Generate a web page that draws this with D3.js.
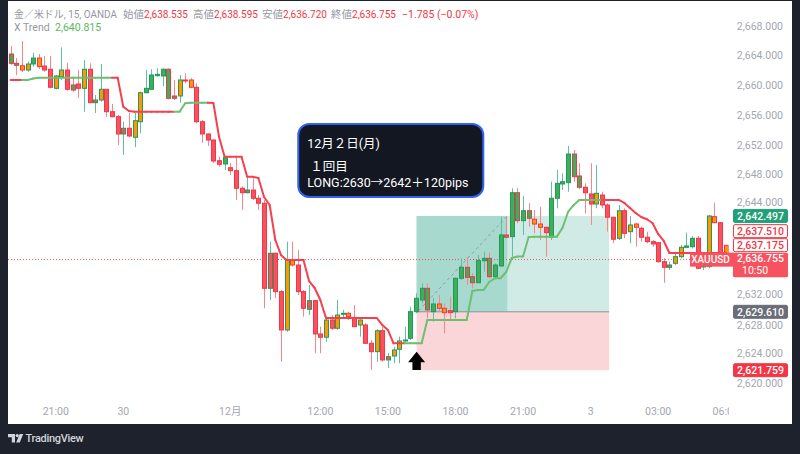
<!DOCTYPE html>
<html><head><meta charset="utf-8">
<script src="https://cdn.jsdelivr.net/npm/d3@7"></script>
<style>html,body{margin:0;padding:0;background:#1e222d;overflow:hidden}</style>
</head><body><svg id="c" width="800" height="454"></svg>
<script>
// ---------- DATA ----------
const opens = [2664.26,2663.01,2662.69,2662.11,2662.92,2663.72,2662.65,2662.21,2659.65,2661.21,
2662.11,2660.10,2660.23,2659.65,2662.21,2657.72,2658.08,2659.52,2656.51,2655.84,
2653.51,2654.28,2653.07,2655.16,2659.06,2659.52,2661.35,2661.31,2662.21,2658.62,
2658.62,2660.77,2660.77,2659.79,2655.16,2653.51,2652.70,2649.92,2649.48,2648.98,
2648.58,2646.21,2645.62,2645.98,2644.87,2644.20,2632.77,2637.48,2632.32,2627.17,
2636.58,2635.90,2632.32,2629.95,2631.11,2626.63,2626.19,2628.51,2627.40,2629.35,
2629.41,2628.74,2627.84,2627.84,2625.38,2624.25,2627.07,2623.14,2623.67,2624.57,
2625.78,2626.05,2629.63,2631.20,2632.77,2629.63,2630.66,2630.08,2629.76,2629.63,
2634.12,2635.59,2634.33,2633.52,2636.48,2636.80,2634.33,2635.77,2639.94,2639.71,
2645.62,2641.86,2643.20,2642.05,2641.41,2640.97,2639.63,2644.87,2646.79,2646.97,
2650.82,2647.87,2646.35,2645.45,2644.10,2645.31,2643.97,2642.32,2639.49,2643.20,
2640.38,2641.41,2640.84,2639.63,2639.04,2638.90,2636.35,2635.59,2636.13,2637.02,
2638.28,2638.36,2639.49,2635.64,2635.68,2642.40,2641.59,2638.535];
const highs = [2665.34,2663.72,2666.01,2663.23,2664.44,2664.26,2663.99,2663.99,2661.44,2665.16,
2663.09,2661.21,2662.11,2663.46,2663.01,2658.75,2662.92,2659.56,2657.54,2656.06,
2655.16,2656.37,2656.33,2659.20,2662.11,2662.21,2662.34,2662.34,2662.34,2660.77,
2661.44,2661.67,2661.00,2660.32,2655.39,2653.60,2652.84,2650.46,2650.46,2649.61,
2650.29,2646.52,2647.77,2647.56,2645.31,2644.64,2639.04,2637.60,2632.54,2639.04,
2639.04,2637.92,2632.54,2633.22,2631.20,2627.61,2628.96,2629.18,2631.20,2629.86,
2629.63,2630.53,2628.60,2628.07,2625.82,2627.26,2627.61,2624.08,2624.92,2626.27,
2627.61,2630.30,2632.10,2633.44,2633.44,2631.47,2631.87,2630.76,2631.64,2634.20,
2636.80,2637.02,2634.79,2637.25,2637.69,2637.56,2636.13,2642.40,2642.40,2646.21,
2646.21,2645.18,2644.20,2643.30,2643.74,2641.05,2647.10,2648.67,2648.23,2651.90,
2651.36,2649.57,2646.88,2649.57,2649.34,2645.76,2644.20,2642.40,2643.97,2643.52,
2642.49,2641.59,2641.05,2640.38,2639.26,2639.00,2636.80,2636.35,2637.69,2638.59,
2640.25,2639.80,2639.80,2636.84,2642.62,2644.28,2641.68,2638.595];
const lows = [2662.78,2661.44,2661.84,2661.88,2662.56,2662.25,2661.88,2659.65,2659.52,2660.77,
2659.33,2659.20,2658.35,2656.51,2657.64,2656.33,2657.85,2655.80,2655.75,2652.03,
2650.69,2653.07,2651.76,2653.60,2658.98,2659.42,2661.21,2659.96,2658.17,2658.08,
2657.72,2660.32,2659.65,2654.95,2652.34,2651.90,2649.57,2649.12,2648.67,2648.00,
2644.64,2643.30,2645.54,2644.64,2643.30,2630.08,2631.20,2631.47,2622.91,2626.94,
2635.68,2631.87,2628.96,2629.18,2624.04,2624.04,2625.60,2627.17,2627.17,2628.74,
2628.51,2627.57,2626.27,2625.30,2621.79,2622.91,2622.91,2622.06,2622.69,2622.69,
2625.60,2625.82,2629.41,2630.76,2628.74,2628.28,2629.63,2626.72,2628.51,2628.74,
2633.89,2633.22,2632.77,2633.44,2635.00,2634.12,2634.12,2635.68,2639.49,2637.02,
2641.51,2639.94,2641.05,2640.16,2639.26,2637.02,2639.26,2643.52,2645.98,2645.76,
2647.10,2646.08,2642.85,2641.28,2643.52,2643.52,2640.38,2638.82,2639.26,2639.49,
2638.82,2638.36,2639.04,2638.82,2638.36,2636.21,2633.52,2635.23,2635.90,2636.80,
2638.15,2638.15,2635.33,2635.23,2635.46,2641.51,2636.84,2636.72];
const closes = [2663.01,2662.74,2662.11,2662.92,2663.72,2662.56,2662.11,2659.79,2661.31,2662.11,
2659.52,2659.42,2659.65,2662.21,2657.72,2658.08,2659.52,2656.51,2655.84,2653.51,
2654.28,2653.24,2655.30,2659.06,2659.65,2661.44,2661.53,2662.21,2658.31,2658.31,
2660.77,2660.67,2659.79,2655.16,2653.51,2652.70,2649.88,2649.44,2650.38,2648.58,
2646.21,2645.62,2645.98,2644.87,2644.20,2632.77,2637.48,2632.32,2627.17,2636.58,
2635.90,2632.32,2630.08,2631.11,2626.63,2626.19,2628.51,2627.40,2629.18,2629.41,
2628.96,2627.61,2628.51,2625.38,2624.25,2627.07,2623.14,2623.58,2624.48,2625.69,
2625.82,2629.63,2631.43,2632.77,2629.86,2630.66,2630.08,2629.49,2629.49,2634.12,
2635.59,2634.25,2633.52,2636.48,2636.80,2634.33,2635.90,2639.94,2639.63,2645.62,
2641.86,2643.20,2642.18,2641.41,2640.97,2640.25,2644.87,2646.88,2647.10,2650.82,
2647.77,2646.35,2645.62,2644.10,2645.54,2643.97,2642.32,2639.36,2643.20,2640.16,
2641.28,2640.97,2639.63,2639.04,2638.73,2636.35,2635.59,2635.90,2637.02,2638.28,
2638.46,2639.49,2635.46,2636.04,2642.49,2641.59,2637.25,2636.755];
// body fill from the bar-colour indicator: g = green, r = red, o = orange
const barFills = ["g","g","o","o","g","o","r","r","o","o",
"r","g","r","o","r","r","o","r","r","r",
"r","r","o","o","g","g","g","g","g","g",
"o","r","o","r","r","r","r","r","g","r",
"r","r","r","r","r","r","r","r","r","o",
"o","r","r","r","r","r","o","r","o","g",
"o","r","o","r","r","o","r","r","o","o",
"g","g","g","g","g","g","o","o","r","g",
"g","g","g","g","g","g","g","g","g","g",
"g","g","g","o","o","r","g","g","g","g",
"g","g","r","r","o","r","r","r","o","r",
"o","o","r","r","r","r","r","r","o","o",
"g","g","r","r","o","o","r","o"];
const trendValues = [2660.77,2660.77,2660.77,2660.77,2660.97,2661.08,2661.08,2661.08,2661.08,2661.08,
2661.08,2661.08,2661.08,2661.08,2661.08,2661.08,2661.08,2661.08,2661.08,2661.08,
2657.18,2656.60,2656.51,2656.51,2656.51,2656.51,2656.51,2656.51,2656.51,2656.51,
2656.51,2657.64,2657.72,2657.72,2657.72,2657.72,2657.68,2653.15,2650.46,2650.46,
2650.46,2650.46,2647.77,2647.77,2647.60,2645.04,2643.97,2639.26,2637.25,2636.58,
2636.58,2636.58,2636.58,2633.75,2632.81,2631.20,2628.78,2628.78,2628.78,2628.78,
2628.78,2628.78,2628.78,2628.78,2628.78,2628.78,2627.84,2627.17,2625.38,2625.38,
2625.38,2625.38,2625.38,2625.38,2628.51,2628.51,2628.51,2628.51,2628.51,2628.51,
2628.51,2628.51,2632.41,2632.54,2632.54,2633.62,2634.12,2634.12,2634.96,2636.84,
2637.05,2637.05,2639.67,2639.71,2639.71,2639.71,2639.71,2639.71,2640.88,2643.03,
2643.97,2644.64,2644.64,2644.64,2644.64,2644.64,2644.64,2644.64,2644.64,2644.24,
2643.57,2642.89,2642.36,2642.05,2641.55,2640.07,2639.13,2637.51,2637.51,2637.51,
2637.51,2637.51,2637.51,2637.51,2637.51,2637.51,2637.51,2637.51];
const trendUp = [0,0,0,1,1,1,1,1,1,1, 1,1,1,1,1,1,1,1,1,0,
0,0,0,0,0,0,0,0,0,0, 1,1,1,1,1,1,0,0,0,0,
0,0,0,0,0,0,0,0,0,0, 0,0,0,0,0,0,0,0,0,0,
0,0,0,0,0,0,0,0,0,0, 0,1,1,1,1,1,1,1,1,1,
1,1,1,1,1,1,1,1,1,1, 1,1,1,1,1,1,1,1,1,1,
1,1,1,1,1,1,0,0,0,0, 0,0,0,0,0,0,0,0,0,0,
0,0,0,0,0,0,0,0];
const timeTickIndex = [8,20,39,55,67,79,91,103,115,127];
const timeTickLabels = ["21:00","30","12月","12:00","15:00","18:00","21:00","3","03:00","06:00"];
const priceTicks = [2620,2624,2628,2632,2636,2640,2644,2648,2652,2656,2660,2664,2668];
const currentPrice = 2636.755;
const countdown = "10:50";
const markerValues = [2642.497,2637.510,2637.175,2629.610,2621.759];
const markerKinds = ["tp","trend","trend2","entry","sl"];
const positionEntry = 2629.610, positionTarget = 2642.497, positionStop = 2621.759;
const positionStartIdx = 72.1, positionHitIdx = 88.2, positionEndIdx = 106.3;
const arrowIdx = 72.1, arrowPrice = 2624.25;
const noteIdx = 51.08, notePrice = 2654.85;
const noteLines = ["12月２日(月)"," １回目","LONG:2630→2642＋120pips"];
const headerParts = [
  {t:"金／米ドル, 15, OANDA", c:"g", x:14, w:103},
  {t:"始値", c:"g", x:123},{t:"2,638.535", c:"r", w:44},
  {t:"高値", c:"g", x:193},{t:"2,638.595", c:"r", w:44},
  {t:"安値", c:"g", x:262},{t:"2,636.720", c:"r", w:44},
  {t:"終値", c:"g", x:331},{t:"2,636.755", c:"r", w:44},
  {t:"−1.785 (−0.07%)", c:"r", x:402}
];
const indicatorName = "X Trend", indicatorValue = "2,640.815";

// ---------- DRAW ----------
const svg = d3.select("#c");
const F = "Roboto, 'Noto Sans', sans-serif";
const FM = "Roboto, 'Noto Sans CJK JP', sans-serif";
const plotL = 8, plotR = 728.5, plotT = 1, plotB = 397;
const x = d3.scaleLinear().domain([0,127]).range([10.7,725.7]);
const y = d3.scaleLinear().domain([2620,2668]).range([383.3,26.2]);

svg.append("rect").attr("width",800).attr("height",454).attr("fill","#1e222d");
svg.append("rect").attr("x",plotL).attr("y",plotT).attr("width",792-plotL).attr("height",424-plotT).attr("fill","#ffffff");

const defs = svg.append("defs");
defs.append("clipPath").attr("id","pc").append("rect").attr("x",plotL).attr("y",plotT).attr("width",plotR-plotL).attr("height",plotB-plotT);
defs.append("clipPath").attr("id","tc").append("rect").attr("x",plotL).attr("y",398).attr("width",729-plotL).attr("height",26);

const g = svg.append("g").attr("clip-path","url(#pc)");

// position tool
const px0 = x(positionStartIdx), px1 = x(positionEndIdx), pxh = x(positionHitIdx);
g.append("rect").attr("x",px0).attr("y",y(positionTarget)).attr("width",px1-px0).attr("height",y(positionEntry)-y(positionTarget)).attr("fill","#d0ebe6");
g.append("rect").attr("x",px0).attr("y",y(positionTarget)).attr("width",pxh-px0).attr("height",y(positionEntry)-y(positionTarget)).attr("fill","#a8d9cf");
g.append("rect").attr("x",px0).attr("y",y(positionEntry)).attr("width",px1-px0).attr("height",y(positionStop)-y(positionEntry)).attr("fill","#fbd6d9");
g.append("line").attr("x1",px0).attr("x2",px1).attr("y1",y(positionEntry)).attr("y2",y(positionEntry)).attr("stroke","#8c8f99").attr("stroke-width",1);
g.append("line").attr("x1",px0+2).attr("y1",y(positionEntry)-1).attr("x2",pxh).attr("y2",y(positionTarget)).attr("stroke","#9598a1").attr("stroke-width",1).attr("stroke-dasharray","3,3");

// current price dotted line
g.append("line").attr("x1",plotL).attr("x2",plotR).attr("y1",Math.round(y(currentPrice))+0.5).attr("y2",Math.round(y(currentPrice))+0.5)
 .attr("stroke","#f23645").attr("stroke-width",1).attr("stroke-dasharray","1,2").attr("opacity",0.8);

// candles
const idx = d3.range(opens.length);
const fillCol = {g:"#3fae5a", r:"#f7525f", o:"#ff9800"};
const up = i => closes[i] >= opens[i];
g.selectAll(".wick").data(idx).join("line")
 .attr("x1",i=>Math.round(x(i))+0.5).attr("x2",i=>Math.round(x(i))+0.5)
 .attr("y1",i=>y(highs[i])).attr("y2",i=>y(lows[i]))
 .attr("stroke",i=>up(i)?"#5ebfa3":"#f7858c").attr("stroke-width",1);
g.selectAll(".body").data(idx).join("rect")
 .attr("x",i=>Math.round(x(i))-1.5).attr("width",4)
 .attr("y",i=>y(Math.max(opens[i],closes[i])))
 .attr("height",i=>Math.max(1,Math.abs(y(opens[i])-y(closes[i]))))
 .attr("fill",i=>fillCol[barFills[i]])
 .attr("stroke",i=>up(i)?"#1f9a5a":"#f23645").attr("stroke-width",1);

// trend line
for(let i=1;i<trendValues.length;i++){
  g.append("line").attr("x1",x(i-1)).attr("y1",y(trendValues[i-1])).attr("x2",x(i)).attr("y2",y(trendValues[i]))
   .attr("stroke",trendUp[i]?"#6cc070":"#f7404f").attr("stroke-width",2).attr("stroke-linecap","round");
}

// arrow
const ax = x(arrowIdx), ay = y(arrowPrice);
svg.append("path").attr("d",`M${ax},${ay} L${ax+8.5},${ay+10.5} L${ax+4.2},${ay+10.5} L${ax+4.2},${ay+18.3} L${ax-4.2},${ay+18.3} L${ax-4.2},${ay+10.5} L${ax-8.5},${ay+10.5} Z`).attr("fill","#000");

// note box
const nx = x(noteIdx), ny = y(notePrice);
svg.append("rect").attr("x",nx).attr("y",ny).attr("width",185).attr("height",73).attr("rx",11)
 .attr("fill","#131722").attr("stroke","#2f62f5").attr("stroke-width",2);
const nt = svg.append("text").attr("font-family",FM).attr("font-size",12.5).attr("fill","#ffffff");
nt.append("tspan").attr("x",nx+9).attr("y",ny+23.5).text(noteLines[0]);
nt.append("tspan").attr("x",nx+9).attr("y",ny+46.5).style("white-space","pre").text(noteLines[1]);
nt.append("tspan").attr("x",nx+9).attr("y",ny+62.5).text(noteLines[2]);

// symbol label
const cy = y(currentPrice);
svg.append("rect").attr("x",690).attr("y",cy-6).attr("width",44).attr("height",14).attr("fill","#f7525f");
svg.append("text").attr("x",710.5).attr("y",cy+4.6).attr("text-anchor","middle").attr("font-family",F).attr("font-size",10).attr("fill","#fff").attr("font-weight",500).text("XAUUSD");

// price axis labels
const fmt = d3.format(",.3f");
const LH = 13;
const curTop = cy - 6, curBot = cy + 18.7;
const styles = {
  tp:{fill:"#22a07a", stroke:"#22a07a", text:"#fff"},
  trend:{fill:"#fff", stroke:"#f23645", text:"#f23645"},
  trend2:{fill:"#fff", stroke:"#f23645", text:"#f23645"},
  entry:{fill:"#6a6d78", stroke:"#6a6d78", text:"#fff"},
  sl:{fill:"#f23645", stroke:"#f23645", text:"#fff"}
};
let labels = markerValues.map((v,k)=>({v, kind:markerKinds[k], cy:y(v)}));
// stack labels above the current price tag
let above = labels.filter(l=>l.v>currentPrice).sort((a,b)=>b.cy-a.cy);
let lim = curTop;
above.forEach(l=>{ l.cy = Math.min(l.cy, lim-1-LH/2); lim = l.cy-LH/2; });
let below = labels.filter(l=>l.v<=currentPrice).sort((a,b)=>a.cy-b.cy);
lim = curBot;
below.forEach(l=>{ l.cy = Math.max(l.cy, lim+1+LH/2); lim = l.cy+LH/2; });

const ax2 = svg.append("g");
priceTicks.forEach(t=>{
  let ty = y(t);
  const hidden = labels.some(l=>Math.abs(l.cy-ty)<10.5) || (ty>curTop-5 && ty<curBot+5);
  if(hidden) return;
  // nudge a tick text away from a nearby price tag
  labels.forEach(l=>{ const d = ty-l.cy; if(Math.abs(d)<13.5) ty = l.cy + Math.sign(d)*13.5; });
  ax2.append("text").attr("x",783).attr("y",ty+3.5).attr("text-anchor","end").attr("font-family",F).attr("font-size",10.5).attr("fill","#a3a6af").text(fmt(t));
});
labels.forEach(l=>{
  const s = styles[l.kind];
  ax2.append("rect").attr("x",733.5).attr("y",l.cy-LH/2).attr("width",54).attr("height",LH).attr("rx",1.5).attr("fill",s.fill).attr("stroke",s.stroke).attr("stroke-width",1);
  ax2.append("text").attr("x",760.5).attr("y",l.cy+3.8).attr("text-anchor","middle").attr("font-family",F).attr("font-size",10.5).attr("font-weight",500).attr("fill",s.text).text(fmt(l.v));
});
ax2.append("rect").attr("x",733).attr("y",curTop).attr("width",55).attr("height",curBot-curTop).attr("rx",1.5).attr("fill","#f7525f");
ax2.append("text").attr("x",760.5).attr("y",cy+3.8).attr("text-anchor","middle").attr("font-family",F).attr("font-size",10.5).attr("font-weight",500).attr("fill","#fff").text(fmt(currentPrice));
ax2.append("text").attr("x",742).attr("y",cy+15.5).attr("font-family",F).attr("font-size",10.5).attr("fill","#fff").text(countdown);

// time axis
const tg = svg.append("g").attr("clip-path","url(#tc)");
timeTickIndex.forEach((ti,k)=>{
  tg.append("text").attr("x",x(ti)).attr("y",415).attr("text-anchor","middle")
   .attr("font-family",FM).attr("font-size",10.5).attr("fill","#a3a6af").text(timeTickLabels[k]);
});

// header
const hcol = {g:"#9598a1", r:"#f23645"};
const ht = svg.append("text").attr("y",17.5).attr("font-family",FM).attr("font-size",10.5);
headerParts.forEach(p=>{
  const ts = ht.append("tspan").attr("fill",hcol[p.c]).text(p.t);
  if(p.x!==undefined) ts.attr("x",p.x);
  if(p.w!==undefined) ts.attr("textLength",p.w).attr("lengthAdjust","spacingAndGlyphs");
});
const h2 = svg.append("text").attr("y",30.5).attr("font-family",F).attr("font-size",10.5);
h2.append("tspan").attr("x",14).attr("fill","#9598a1").text(indicatorName);
h2.append("tspan").attr("x",55).attr("fill","#5cb85c").text(indicatorValue);

// logo
const lg = svg.append("g").attr("fill","#d1d4dc");
lg.append("path").attr("d","M8,434 h7 v8.5 h-3.2 v-5.3 h-3.8 z");
lg.append("circle").attr("cx",17.2).attr("cy",435.6).attr("r",1.6);
lg.append("path").attr("d","M19.6,434 h3.6 l-3.4,8.5 h-3.6 z");
svg.append("text").attr("x",25.5).attr("y",442.3).attr("font-family",F).attr("font-size",11).attr("font-weight",500).attr("fill","#d1d4dc").attr("letter-spacing",-0.3).text("TradingView");
</script>
</body></html>
